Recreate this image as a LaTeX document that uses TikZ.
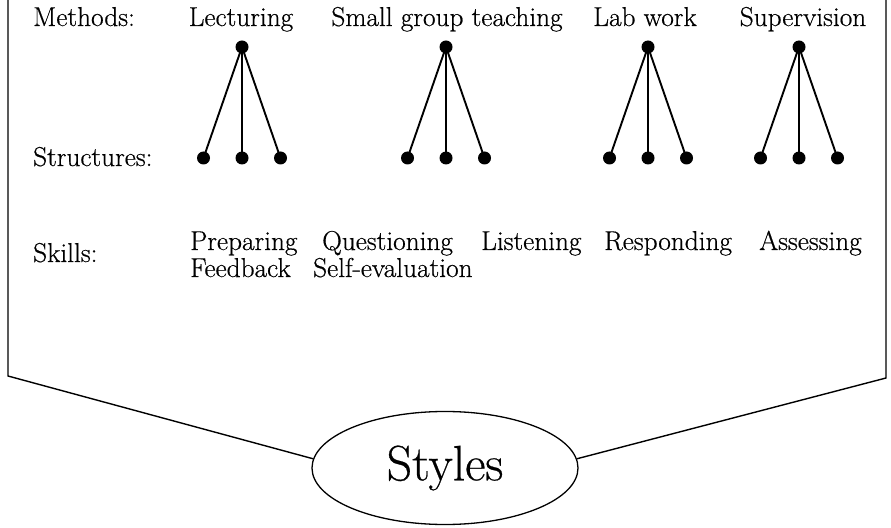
\documentclass[tikz,border=0pt]{standalone}
\usepackage{fontspec}
\setmainfont{Latin Modern Roman}[FakeBold=0.5]
\usetikzlibrary{shapes.geometric}
\begin{document}
\begin{tikzpicture}[x=1bp,y=-1bp,
  dot/.style={circle,fill=black,inner sep=0pt,minimum size=13bp},
  branch/.style={line width=1.9bp},
  frame/.style={line width=1.4bp},
  lbl/.style={font=\fontsize{27.4}{32}\selectfont,inner sep=0pt},
  hub/.style={ellipse,draw,line width=1.3bp,minimum width=266bp,minimum height=113bp,inner sep=0pt,
    font=\fontsize{50}{54}\selectfont},
]
\useasboundingbox (0,0) rectangle (891,528);

% row headings
\node[lbl,anchor=base west] (hmeth) at (33,26) {Methods:};
\node[lbl,anchor=base west] (hstruct) at (33,166) {Structures:};
\node[lbl,anchor=base west] (hskill) at (33,262) {Skills:};

% teaching methods
\node[lbl,anchor=base] (mlec) at (241,26) {Lecturing};
\node[lbl,anchor=base] (msgt) at (447,26) {Small group teaching};
\node[lbl,anchor=base] (mlab) at (645,26) {Lab work};
\node[lbl,anchor=base] (msup) at (803,26) {Supervision};

% one small tree per method
\foreach \n/\x in {a/242, b/446, c/648, d/799} {
  \node[dot] (\n0) at (\x,47) {};
  \node[dot] (\n1) at (\x-38.5,158) {};
  \node[dot] (\n2) at (\x,158) {};
  \node[dot] (\n3) at (\x+38.5,158) {};
  \draw[branch] (\n0.center) -- (\n1.center);
  \draw[branch] (\n0.center) -- (\n2.center);
  \draw[branch] (\n0.center) -- (\n3.center);
}

% skills
\node[lbl,anchor=base west] (sprep) at (190,250) {Preparing};
\node[lbl,anchor=base west] (sques) at (322,250) {Questioning};
\node[lbl,anchor=base west] (slist) at (481,250) {Listening};
\node[lbl,anchor=base west] (sresp) at (604,250) {Responding};
\node[lbl,anchor=base east] (sasse) at (862,250) {Assessing};
\node[lbl,anchor=base west] (sfeed) at (190,277) {Feedback};
\node[lbl,anchor=base west] (sself) at (313,277) {Self-evaluation};

% the funnel into the hub
\node[hub] (sty) at (445,468) {Styles};
\coordinate (tl) at (8,0);
\coordinate (bl) at (8,376);
\coordinate (tr) at (886,0);
\coordinate (br) at (886,378);
\draw[frame] (tl) -- (bl) -- (sty.176);
\draw[frame] (tr) -- (br) -- (sty.4);
\end{tikzpicture}
\end{document}
